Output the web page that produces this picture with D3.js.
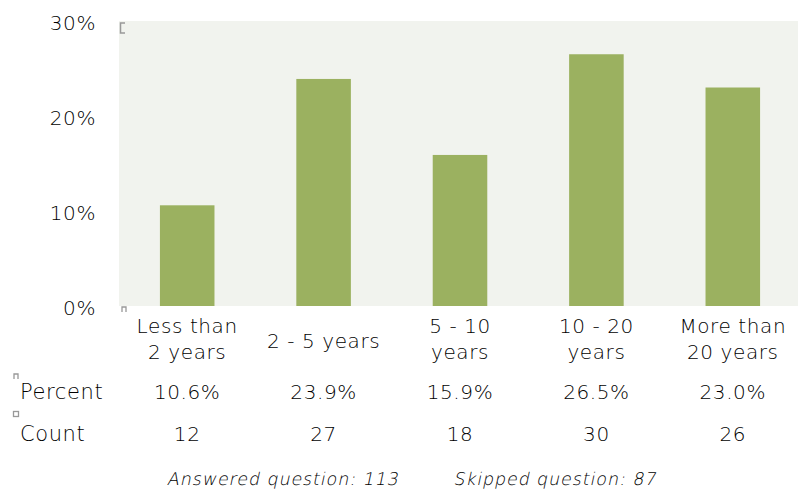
<!DOCTYPE html>
<html>
<head>
<meta charset="utf-8">
<script src="https://cdn.jsdelivr.net/npm/d3@7/dist/d3.min.js"></script>
<style>
  html, body { margin: 0; padding: 0; background: #fff; }
  svg { display: block; }
  text { font-family: "DejaVu Sans", sans-serif; font-weight: 200; fill: #000; }
</style>
</head>
<body>
<svg id="chart" width="798" height="491"></svg>
<script>
// Survey: years of experience
const categories = [["Less than", "2 years"], ["2 - 5 years"], ["5 - 10", "years"], ["10 - 20", "years"], ["More than", "20 years"]];
const percents = [10.6, 23.9, 15.9, 26.5, 23.0];
const counts = [12, 27, 18, 30, 26];
const yTicks = [0, 10, 20, 30];
const answered = 113;
const skipped = 87;

const svg = d3.select("#chart");
const plot = { left: 119, right: 801, top: 21, bottom: 306 };

const keys = categories.map((c, i) => i);
const x = d3.scaleBand().domain(keys).range([plot.left, plot.right]).paddingInner(0.6).paddingOuter(0.3);
const y = d3.scaleLinear().domain([0, 30]).range([plot.bottom, plot.top]);

// plot background
svg.append("rect")
  .attr("x", plot.left).attr("y", plot.top)
  .attr("width", plot.right - plot.left).attr("height", plot.bottom - plot.top)
  .attr("fill", "#f1f3ee");

// bars
svg.append("g").selectAll("rect").data(percents).join("rect")
  .attr("x", (d, i) => x(i))
  .attr("y", d => y(d))
  .attr("width", x.bandwidth())
  .attr("height", d => y(0) - y(d))
  .attr("fill", "#9bb160");

const spacing = "0.6px";

// y axis (labels only)
const yAxis = d3.axisLeft(y).tickValues(yTicks).tickFormat(d => d + "%").tickSize(0).tickPadding(0);
const gy = svg.append("g").attr("transform", `translate(96,2)`).call(yAxis);
gy.select(".domain").remove();
gy.selectAll("text").attr("font-size", 20).attr("font-family", "DejaVu Sans, sans-serif")
  .attr("font-weight", 200).attr("letter-spacing", spacing).attr("fill", "#000");

// category labels
const catG = svg.append("g");
categories.forEach((lines, i) => {
  const cx = x(i) + x.bandwidth() / 2;
  const t = catG.append("text").attr("text-anchor", "middle").attr("font-size", 20)
    .attr("letter-spacing", spacing);
  const startY = lines.length === 1 ? 341 : 326;
  lines.forEach((ln, j) => {
    t.append("tspan").attr("x", cx).attr("y", startY + j * 26).attr("dy", "0.35em").text(ln);
  });
});

// table rows
const rows = [
  { label: "Percent", y: 392, values: percents.map(d => d.toFixed(1) + "%") },
  { label: "Count", y: 434, values: counts.map(String) }
];
rows.forEach(r => {
  svg.append("text").attr("x", 20).attr("y", r.y).attr("dy", "0.35em")
    .attr("font-size", 21).attr("letter-spacing", spacing).text(r.label);
  r.values.forEach((v, i) => {
    svg.append("text").attr("x", x(i) + x.bandwidth() / 2).attr("y", r.y).attr("dy", "0.35em")
      .attr("text-anchor", "middle").attr("font-size", 20).attr("letter-spacing", spacing).text(v);
  });
});

// small gray handle marks
const markColor = "#999";
svg.append("path").attr("d", "M125,23 L120.5,23 L120.5,33 L125,33")
  .attr("fill", "none").attr("stroke", markColor).attr("stroke-width", 1.5);
[[122, 307], [14, 374]].forEach(([mx, my]) => {
  svg.append("path").attr("d", `M${mx},${my + 5} L${mx},${my} L${mx + 4},${my} L${mx + 4},${my + 5}`)
    .attr("fill", "none").attr("stroke", markColor).attr("stroke-width", 1.3);
});
svg.append("rect").attr("x", 13.5).attr("y", 411.5).attr("width", 5).attr("height", 5)
  .attr("fill", "none").attr("stroke", markColor).attr("stroke-width", 1.3);

// footer, slanted light text
const footer = [
  { cx: 284, label: `Answered question: ${answered}` },
  { cx: 556, label: `Skipped question: ${skipped}` }
];
footer.forEach(f => {
  svg.append("g").attr("transform", `translate(${f.cx},479) skewX(-12)`)
    .append("text").attr("x", 0).attr("y", 0).attr("dy", "0.35em").attr("text-anchor", "middle")
    .attr("font-size", 17.5).attr("fill", "#111").attr("letter-spacing", "0.9px")
    .text(f.label);
});
</script>
</body>
</html>
